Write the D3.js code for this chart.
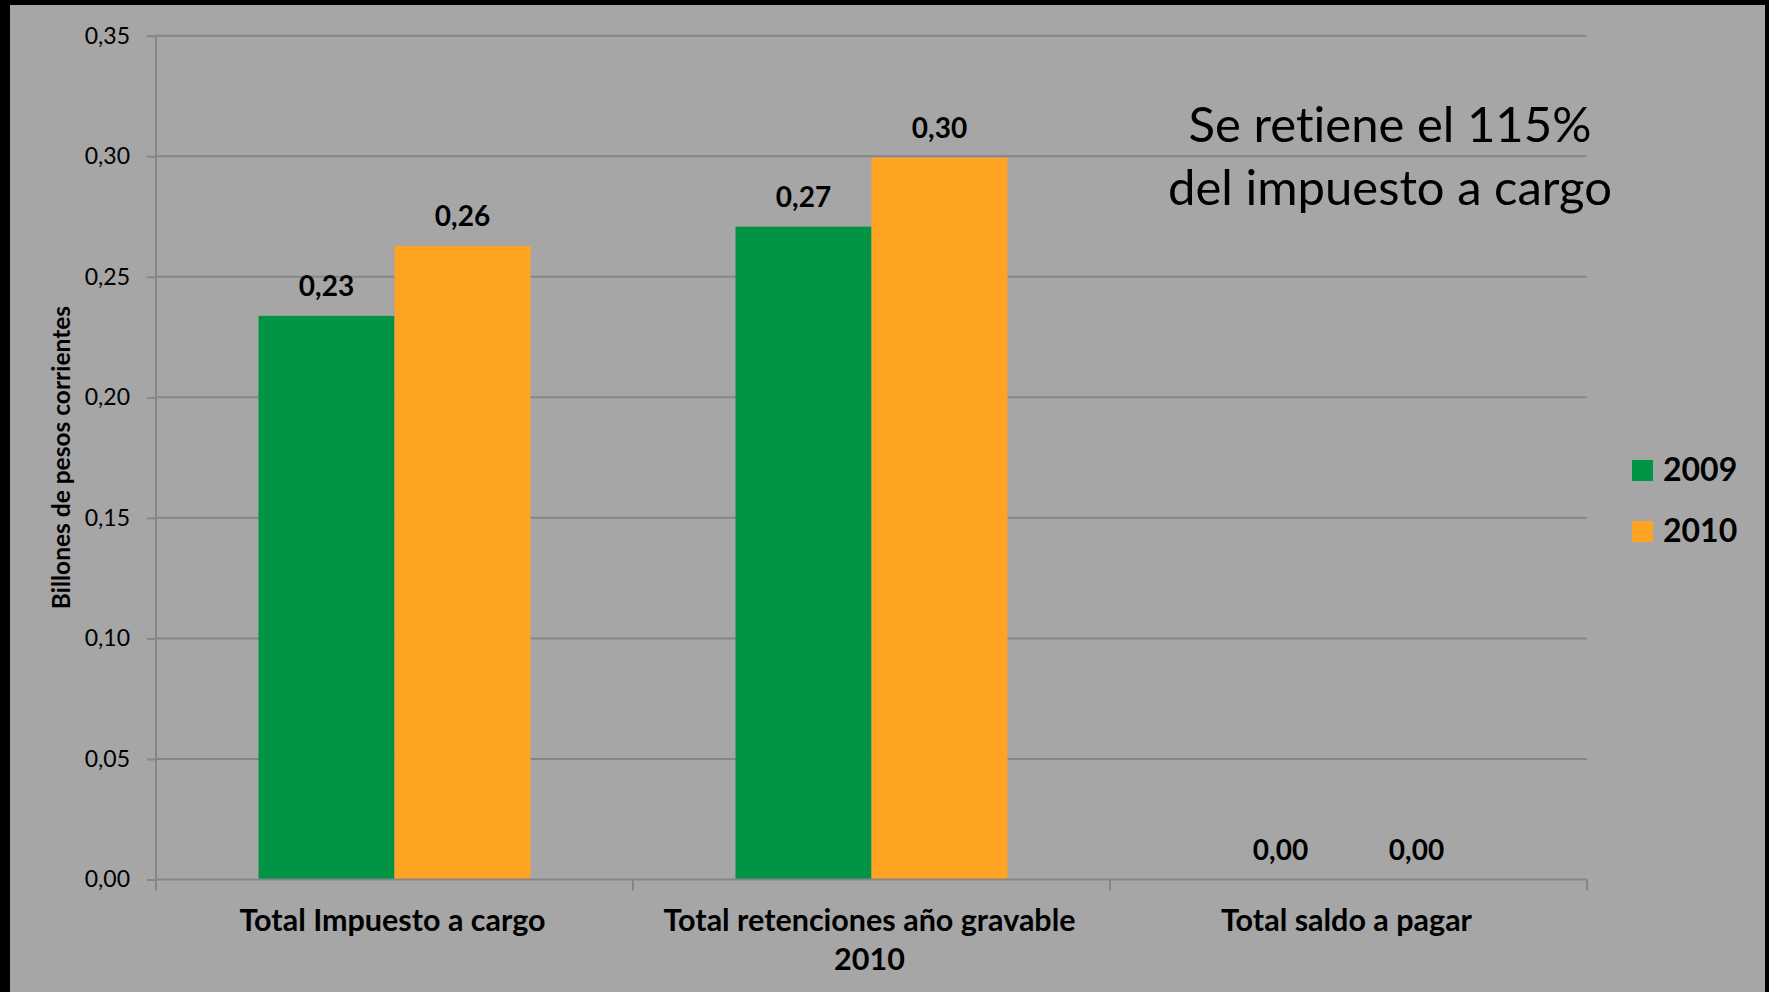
<!DOCTYPE html>
<html>
<head>
<meta charset="utf-8">
<script src="https://cdn.jsdelivr.net/npm/d3@7"></script>
<style>
  html, body { margin: 0; padding: 0; background: #000; }
  svg { display: block; }
  text { font-family: Lato, "Open Sans", sans-serif; fill: #000; font-variant-ligatures: none; }
</style>
</head>
<body>
<svg id="chart" width="1769" height="992"></svg>
<script>
const categories = ["Total Impuesto a cargo", "Total retenciones año gravable 2010", "Total saldo a pagar"];
const seriesNames = ["2009", "2010"];
const values2009 = [0.2338, 0.2708, 0.0];
const values2010 = [0.2628, 0.2994, 0.0];
const yTicks = [0, 0.05, 0.10, 0.15, 0.20, 0.25, 0.30, 0.35];
const yTitle = "Billones de pesos corrientes";
const noteLines = ["Se retiene el 115%", "del impuesto a cargo"];

const colors = { "2009": "#009444", "2010": "#FFA422" };
const bg = "#a6a6a6";
const gridColor = "#868686";

const svg = d3.select("#chart");
const W = 1769, H = 992;

svg.append("rect").attr("width", W).attr("height", H).attr("fill", "#000");
svg.append("rect").attr("x", 10).attr("y", 5).attr("width", W - 14).attr("height", H - 5).attr("fill", bg);

const plot = { left: 156, right: 1587, top: 35.7, bottom: 879.5 };

const y = d3.scaleLinear().domain([0, 0.35]).range([plot.bottom, plot.top]);
const x0 = d3.scaleBand().domain(categories).range([plot.left, plot.right]).paddingInner(0).paddingOuter(0);
const x1 = d3.scaleBand().domain(seriesNames).range([0, x0.bandwidth()]).paddingInner(0).paddingOuter(0.754);

const fmt = v => d3.format(".2f")(v).replace(".", ",");

// gridlines
svg.append("g").selectAll("line").data(yTicks.slice(1)).join("line")
  .attr("x1", plot.left).attr("x2", plot.right)
  .attr("y1", d => y(d)).attr("y2", d => y(d))
  .attr("stroke", gridColor).attr("stroke-width", 2);

// y axis
const yAxis = d3.axisLeft(y).tickValues(yTicks).tickFormat(fmt).tickSize(9).tickPadding(17);
const gy = svg.append("g").attr("transform", `translate(${plot.left},0)`).call(yAxis);
gy.select(".domain").attr("stroke", gridColor).attr("stroke-width", 2).attr("d", `M0,${plot.top}V${plot.bottom}`);
gy.selectAll(".tick line").attr("stroke", gridColor).attr("stroke-width", 2);
gy.selectAll(".tick text").attr("font-family", "Lato").attr("font-size", 23).attr("fill", "#000");

// bars
const data = categories.map((c, i) => ({ cat: c, vals: [
  { s: "2009", v: values2009[i] }, { s: "2010", v: values2010[i] } ] }));

const groups = svg.append("g").selectAll("g").data(data).join("g")
  .attr("transform", d => `translate(${x0(d.cat)},0)`);

groups.selectAll("rect").data(d => d.vals).join("rect")
  .attr("x", d => x1(d.s)).attr("width", x1.bandwidth())
  .attr("y", d => y(d.v)).attr("height", d => y(0) - y(d.v))
  .attr("fill", d => colors[d.s]);

groups.selectAll("text.val").data(d => d.vals).join("text")
  .attr("class", "val")
  .attr("x", d => x1(d.s) + x1.bandwidth() / 2)
  .attr("y", d => y(d.v) - 20)
  .attr("text-anchor", "middle")
  .attr("font-weight", 700).attr("font-size", 28)
  .text(d => fmt(d.v));

// x axis
const xAxis = d3.axisBottom(x0).tickSize(0).tickFormat("");
const gx = svg.append("g").attr("transform", `translate(0,${plot.bottom})`).call(xAxis);
gx.select(".domain").attr("stroke", gridColor).attr("stroke-width", 2).attr("d", `M${plot.left},0H${plot.right}`);
const bounds = categories.map(c => x0(c)).concat([plot.right]);
gx.selectAll("line.cb").data(bounds).join("line").attr("class", "cb")
  .attr("x1", d => d).attr("x2", d => d).attr("y1", 0).attr("y2", 11)
  .attr("stroke", gridColor).attr("stroke-width", 2);

// category labels with wrapping
const catLabels = svg.append("g").selectAll("text").data(categories).join("text")
  .attr("x", d => x0(d) + x0.bandwidth() / 2 - 2)
  .attr("y", 931)
  .attr("text-anchor", "middle")
  .attr("font-weight", 700).attr("font-size", 30.5);

catLabels.each(function(d) {
  const t = d3.select(this);
  const words = d.split(" ");
  const maxW = 450;
  let line = [];
  let tspan = t.append("tspan").attr("x", t.attr("x")).attr("dy", 0);
  words.forEach(w => {
    line.push(w);
    tspan.text(line.join(" "));
    if (tspan.node().getComputedTextLength() > maxW && line.length > 1) {
      line.pop();
      tspan.text(line.join(" "));
      line = [w];
      tspan = t.append("tspan").attr("x", t.attr("x")).attr("dy", 39).text(w);
    }
  });
});

// y title
svg.append("text")
  .attr("transform", `translate(70,${(plot.top + plot.bottom) / 2}) rotate(-90)`)
  .attr("text-anchor", "middle")
  .attr("font-weight", 700).attr("font-size", 24.5)
  .text(yTitle);

// note
svg.append("g").selectAll("text").data(noteLines).join("text")
  .attr("x", 1390).attr("y", (d, i) => 142 + i * 63)
  .attr("text-anchor", "middle")
  .attr("font-size", 49)
  .text(d => d);

// legend
const leg = svg.append("g").selectAll("g").data(seriesNames).join("g")
  .attr("transform", (d, i) => `translate(1632,${460 + i * 61})`);
leg.append("rect").attr("width", 21).attr("height", 21).attr("fill", d => colors[d]);
leg.append("text").attr("x", 31).attr("y", 21).attr("font-weight", 700).attr("font-size", 32).text(d => d);
</script>
</body>
</html>
